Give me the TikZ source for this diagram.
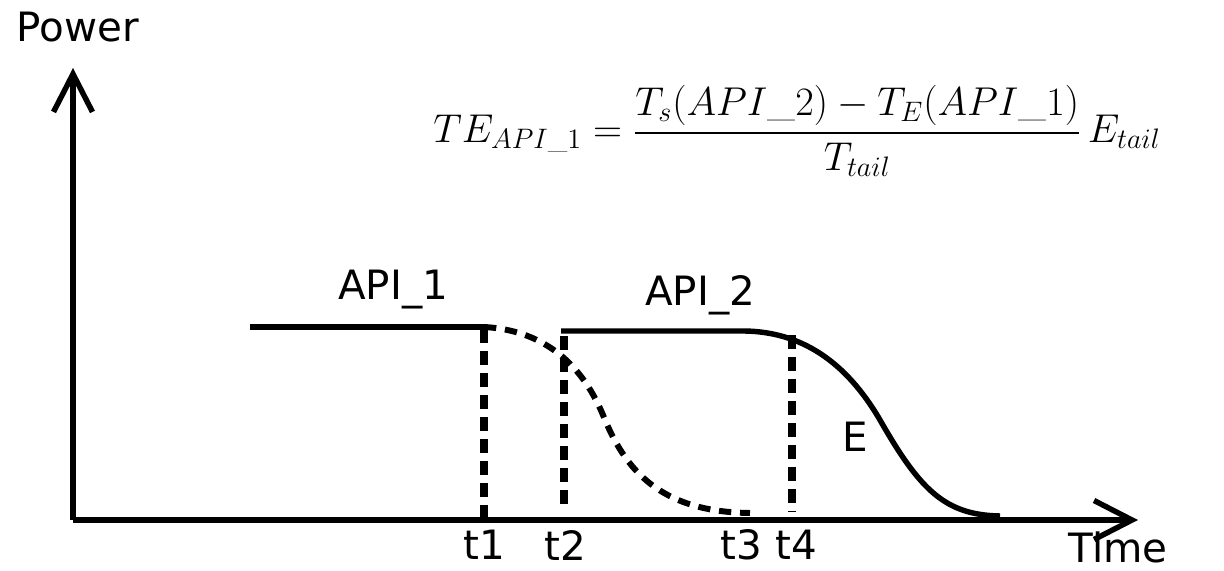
\RequirePackage{fix-cm}
\documentclass[tikz,border=0pt]{standalone}
\usepackage{fontspec}
\usepackage{amsmath}
\newfontfamily\labelfont{DejaVu Sans}
\usetikzlibrary{arrows.meta}
\begin{document}
\begin{tikzpicture}[x=0.02cm, y=-0.02cm, line width=3.1pt,
  every node/.style={font=\labelfont\fontsize{23}{27}\selectfont, inner sep=0pt},
  axis/.style={-{Straight Barb[length=0.76cm, width=0.78cm]}},
  marker/.style={line width=4pt, dash pattern=on 8pt off 4.5pt},
  tail/.style={line width=3.4pt, dash pattern=on 7pt off 5pt}]

  \useasboundingbox (0,0) rectangle (1224,571);

  % Ejes
  \coordinate (origin) at (73,520);
  \coordinate (ytip) at (73,68);
  \coordinate (xtip) at (1138,520);
  \draw[axis] (origin) -- (ytip);
  \draw[axis] (origin) -- (xtip);
  \node (power) at (78,27) {Power};
  \node (time) at (1118,547) {Time};

  % Curva de API_1 y su cola discontinua
  \coordinate (a1start) at (250,327);
  \coordinate (a1end) at (484,327);
  \coordinate (a1mid) at (603,415);
  \coordinate (a1tail) at (750,513);
  \draw (a1start) -- (a1end);
  \draw[tail] (a1end) .. controls (540,330) and (580,360) .. (a1mid)
                      .. controls (625,470) and (660,512) .. (a1tail);

  % Curva de API_2 con su cola de energia E
  \coordinate (a2start) at (561,331);
  \coordinate (a2flat) at (745,331);
  \coordinate (a2mid) at (880,420);
  \coordinate (a2tail) at (1000,516);
  \draw (a2start) -- (a2flat) .. controls (800,332) and (845,360) .. (a2mid)
                  .. controls (920,490) and (945,515) .. (a2tail);

  % Marcas de tiempo
  \coordinate (t1top) at (484,329);
  \coordinate (t1bot) at (484,518);
  \coordinate (t2top) at (564,336);
  \coordinate (t2bot) at (564,511);
  \coordinate (t4top) at (792,335);
  \coordinate (t4bot) at (792,511);
  \draw[marker] (t1top) -- (t1bot);
  \draw[marker] (t2top) -- (t2bot);
  \draw[marker] (t4top) -- (t4bot);

  \node (t1) at (484,545) {t1};
  \node (t2) at (565,545) {t2};
  \node (t3) at (741,545) {t3};
  \node (t4) at (796,545) {t4};

  % Etiquetas
  \node (api1) at (393,290) {API\_1};
  \node (api2) at (700,295) {API\_2};
  \node (energy) at (855,437) {E};

  % Formula de la energia de cola
  \node[font=\fontsize{22.9}{27}\selectfont] (formula) at (797,131)
    {$TE_{API\_1} = \dfrac{T_s(API\_2) - T_E(API\_1)}{T_{tail}}\,E_{tail}$};

\end{tikzpicture}
\end{document}
